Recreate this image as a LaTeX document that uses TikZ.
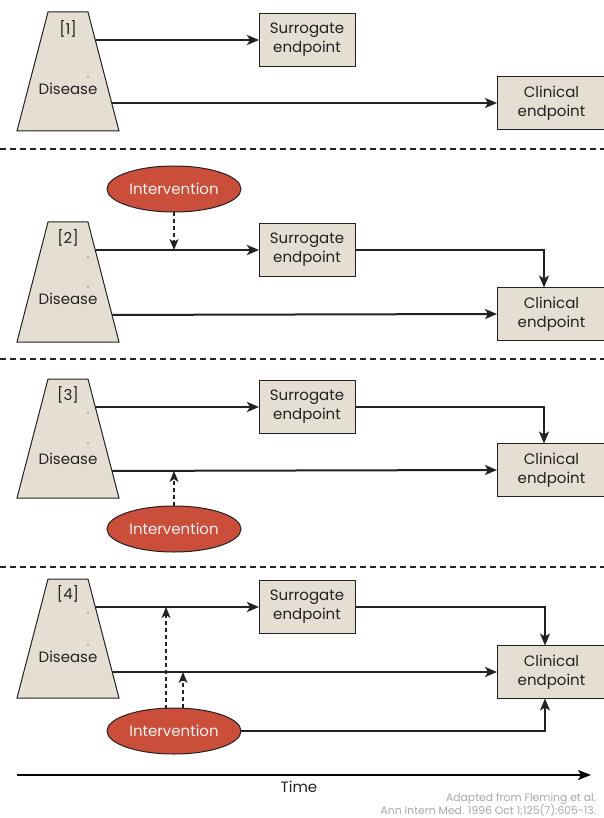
\documentclass[tikz,border=0pt]{standalone}
\usepackage{fontspec}
\setmainfont{Poppins}
\usetikzlibrary{arrows.meta,calc,shapes.geometric}
\definecolor{beige}{HTML}{E5DED3}
\definecolor{ink}{HTML}{222222}
\definecolor{redfill}{HTML}{CB4E3B}
\definecolor{credit}{HTML}{A8A8A8}
\begin{document}
\begin{tikzpicture}[x=1pt,y=-1pt,
  font=\fontsize{15}{19}\selectfont,
  every node/.style={inner sep=0pt,outer sep=0pt},
  boxnode/.style={draw=ink,line width=1pt,fill=beige,minimum height=53pt,align=center,text=ink},
  surr/.style={boxnode,minimum width=96pt},
  clin/.style={boxnode,minimum width=109pt,anchor=west},
  interv/.style={ellipse,draw=ink,line width=1pt,fill=redfill,minimum width=134pt,minimum height=46pt,text=white!95!black},
  trapz/.style={draw=ink,line width=1pt,fill=beige},
  mainarrow/.style={draw=ink,line width=2pt,-{Stealth[length=12pt,width=10pt,inset=3pt]}},
  thinarrow/.style={draw=ink,line width=1.3pt,-{Stealth[length=12pt,width=10pt,inset=3pt]}},
  dasharrow/.style={draw=ink,line width=1.3pt,dash pattern=on 4pt off 3pt,-{Stealth[length=11pt,width=9pt,inset=3pt]}},
  separator/.style={draw=ink,line width=1.1pt,dash pattern=on 6pt off 4pt},
  labeltext/.style={text=ink},
  dotmark/.style={fill=ink,circle,minimum size=1.3pt},
  credittext/.style={anchor=east,text=credit,font=\fontsize{10.8}{13}\selectfont}
]
\useasboundingbox (0,0) rectangle (604,818);
\fill[white] (0,0) rectangle (604,818);

% ---------- Panel 1 ----------
\coordinate (s1a) at (92,40);
\coordinate (s1b) at (92,103);
\node[surr] (sur1) at (307,40) {Surrogate\\endpoint};
\node[clin] (cli1) at (497,103) {Clinical\\endpoint};
\draw[mainarrow] (s1a) -- (sur1.west);
\draw[mainarrow] (s1b) -- (cli1.west);
\draw[trapz] (48,12) -- (88,12) -- (119,131) -- (17,131) -- cycle;
\node[labeltext] (lab1) at (68,29) {[1]};
\node[labeltext] (dis1) at (68,89) {Disease};
\node[dotmark] (d1a) at (88,77) {};

\draw[separator] (0,149) -- (604,149);

% ---------- Panel 2 ----------
\coordinate (s2a) at (92,250);
\coordinate (s2b) at (92,315);
\node[surr] (sur2) at (307,250) {Surrogate\\endpoint};
\node[clin] (cli2) at (497,314) {Clinical\\endpoint};
\node[interv] (int2) at (174,189) {Intervention};
\coordinate (h2) at (174,250);
\draw[mainarrow] (s2a) -- (sur2.west);
\draw[mainarrow] (s2b) -- (cli2.west);
\draw[thinarrow] (sur2.east) -| ([xshift=-7.5pt]cli2.north);
\draw[dasharrow] (int2.south) -- (h2);
\draw[trapz] (48,222) -- (88,222) -- (119,342) -- (17,342) -- cycle;
\node[labeltext] (lab2) at (68,238) {[2]};
\node[labeltext] (dis2) at (68,299) {Disease};
\node[dotmark] (d2a) at (88,257) {};
\node[dotmark] (d2b) at (88,287) {};

\draw[separator] (0,359) -- (604,359);

% ---------- Panel 3 ----------
\coordinate (s3a) at (92,407);
\coordinate (s3b) at (92,471);
\node[surr] (sur3) at (307,407) {Surrogate\\endpoint};
\node[clin] (cli3) at (497,470) {Clinical\\endpoint};
\node[interv] (int3) at (174,529) {Intervention};
\coordinate (h3) at (174,471);
\draw[mainarrow] (s3a) -- (sur3.west);
\draw[mainarrow] (s3b) -- (cli3.west);
\draw[thinarrow] (sur3.east) -| ([xshift=-7.5pt]cli3.north);
\draw[dasharrow] (int3.north) -- (h3);
\draw[trapz] (48,379) -- (88,379) -- (119,498) -- (17,498) -- cycle;
\node[labeltext] (lab3) at (68,395) {[3]};
\node[labeltext] (dis3) at (68,459) {Disease};
\node[dotmark] (d3a) at (88,413) {};
\node[dotmark] (d3b) at (88,443) {};

\draw[separator] (0,567) -- (604,567);

% ---------- Panel 4 ----------
\coordinate (s4a) at (92,607);
\coordinate (s4b) at (92,672);
\node[surr] (sur4) at (307,607) {Surrogate\\endpoint};
\node[clin] (cli4) at (497,672) {Clinical\\endpoint};
\node[interv] (int4) at (174,731) {Intervention};
\coordinate (h4a) at (166,607);
\coordinate (h4b) at (183,672);
\coordinate (b4a) at (166,709);
\coordinate (b4b) at (183,708);
\draw[mainarrow] (s4a) -- (sur4.west);
\draw[mainarrow] (s4b) -- (cli4.west);
\draw[thinarrow] (sur4.east) -| ([xshift=-6.5pt]cli4.north);
\draw[thinarrow] (int4.east) -| ([xshift=-6.5pt]cli4.south);
\draw[dasharrow] (b4a) -- (h4a);
\draw[dasharrow] (b4b) -- (h4b);
\draw[trapz] (48,579) -- (88,579) -- (119,698) -- (17,698) -- cycle;
\node[labeltext] (lab4) at (68,594) {[4]};
\node[labeltext] (dis4) at (68,657) {Disease};
\node[dotmark] (d4a) at (88,613) {};
\node[dotmark] (d4b) at (88,645) {};

% ---------- Time axis ----------
\coordinate (t0) at (17,775);
\coordinate (t1) at (591,775);
\draw[draw=black,line width=2pt,-{Stealth[length=13pt,width=10pt,inset=3pt]}] (t0) -- (t1);
\node[labeltext] (time) at (299,787) {Time};
\node[credittext] (cr1) at (596,799) {Adapted from Fleming et al.};
\node[credittext] (cr2) at (596,810.5) {Ann Intern Med. 1996 Oct 1;125(7):605-13.};
\end{tikzpicture}
\end{document}
